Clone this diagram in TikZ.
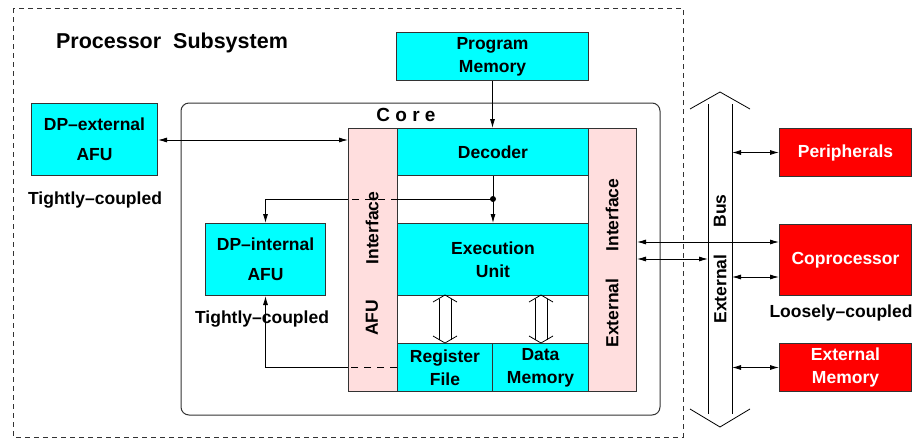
\documentclass[tikz,border=0pt]{standalone}
\usepackage{fontspec}
\setmainfont{Liberation Sans}
\usetikzlibrary{arrows.meta}
\definecolor{cyanbox}{HTML}{00FFFF}
\definecolor{pinkbox}{HTML}{FFDEDE}
\definecolor{redbox}{HTML}{FF0000}
\definecolor{edgecol}{HTML}{333333}
\begin{document}
\begin{tikzpicture}[x=1pt,y=-1pt,
  lbl/.style={font=\bfseries\fontsize{17.5}{23}\selectfont,align=center,inner sep=0pt},
  blk/.style={draw=edgecol,line width=1pt,anchor=north west,inner sep=0pt,lbl},
  cbox/.style={blk,fill=cyanbox},
  pbox/.style={blk,fill=pinkbox},
  rbox/.style={blk,fill=redbox,text=white},
  conn/.style={line width=0.8pt,draw=black},
  arr/.style={conn,-{Latex[length=9pt,width=5pt]}},
  dbl/.style={conn,{Latex[length=9pt,width=5pt]}-{Latex[length=9pt,width=5pt]}},
  dsh/.style={conn,dash pattern=on 7pt off 6pt},
  hollow/.style={line width=0.8pt,draw=black}
]
\useasboundingbox (0,0) rectangle (916,440);
% outer subsystem
\draw[draw=edgecol,line width=0.9pt,dash pattern=on 5pt off 4pt] (13,8) rectangle (683,437);
\node[font=\bfseries\fontsize{21.5}{25}\selectfont,inner sep=0pt] (title) at (172,43) {Processor\ \ Subsystem};

% core
\draw[draw=edgecol,line width=1pt,rounded corners=8pt] (181,103) rectangle (660,415);
\node[font=\bfseries\fontsize{19}{23}\selectfont,inner sep=0pt] (corelbl) at (406,115) {C o r e};

% boxes
\node[cbox,minimum width=192pt,minimum height=48pt] (pm) at (396,32) {Program\\Memory};
\node[cbox,minimum width=126pt,minimum height=72pt] (dpe) at (31,103) {DP–external\\[7pt]AFU};
\node[pbox,minimum width=49pt,minimum height=263pt] (afui) at (348,128) {};
\node[cbox,minimum width=191pt,minimum height=47pt] (dec) at (397,128) {Decoder};
\node[pbox,minimum width=48pt,minimum height=263pt] (exti) at (588,128) {};
\node[cbox,minimum width=191pt,minimum height=72pt] (exu) at (397,223) {Execution\\Unit};
\node[cbox,minimum width=95pt,minimum height=48pt] (rf) at (397,343) {Register\\File};
\node[cbox,minimum width=96pt,minimum height=48pt] (dm) at (492,343) {Data\\Memory};
\node[cbox,minimum width=120pt,minimum height=72pt] (dpi) at (205,223) {DP–internal\\[7pt]AFU};
\node[rbox,minimum width=132pt,minimum height=48pt] (per) at (779,128) {Peripherals};
\node[rbox,minimum width=132pt,minimum height=71pt] (cop) at (779,224) {Coprocessor};
\node[rbox,minimum width=132pt,minimum height=48pt] (em) at (779,343) {External\\Memory};

% rotated labels
\node[lbl,rotate=90] (afuiA) at (372,228) {Interface};
\node[lbl,rotate=90] (afuiB) at (372,318) {AFU};
\node[lbl,rotate=90] (extiA) at (612,215) {Interface};
\node[lbl,rotate=90] (extiB) at (612,313) {External};
\node[lbl,rotate=90] (busA) at (720,211) {Bus};
\node[lbl,rotate=90] (busB) at (720,289) {External};

% coupling labels
\node[lbl] (tc1) at (95,200) {Tightly–coupled};
\node[lbl] (tc2) at (262,319) {Tightly–coupled};
\node[lbl] (lc) at (841,313) {Loosely–coupled};

% bus
\coordinate (bl1) at (708,104); \coordinate (bl2) at (708,414);
\coordinate (br1) at (732,104); \coordinate (br2) at (732,414);
\draw[hollow] (bl1) -- (bl2);
\draw[hollow] (br1) -- (br2);
\draw[hollow] (690,109) -- (720,92) -- (750,109);
\draw[hollow] (690,409) -- (720,427) -- (750,409);

% connectors
\draw[dbl] (dpe.east |- 0,140) -- (afui.west |- 0,140);
\draw[arr] (pm.south) -- (pm.south |- dec.north);
\coordinate (dot) at (dec.south |- 0,199);
\draw[arr] (dec.south) -- (exu.north);
\fill (dot) circle (3pt);
\draw[conn] (dot) -- (afui.east |- dot);
\draw[dsh] (afui.east |- dot) -- (afui.west |- dot);
\draw[arr] (afui.west |- dot) -- (dpi.north |- dot) -- (dpi.north);
\coordinate (rfl) at (rf.west |- 0,367);
\draw[dsh] (rfl) -- (afui.west |- rfl);
\draw[arr] (afui.west |- rfl) -- (dpi.south |- rfl) -- (dpi.south);

% hollow double arrows
\foreach \xx in {445,541}{
  \draw[hollow] (\xx-12,302) -- (\xx,295) -- (\xx+12,302);
  \draw[hollow] (\xx-12,336) -- (\xx,343) -- (\xx+12,336);
  \draw[hollow] (\xx-6,298.5) -- (\xx-6,339.5);
  \draw[hollow] (\xx+6,298.5) -- (\xx+6,339.5);
}

% external connectors
\draw[dbl] (exti.east |- 0,242) -- (cop.west |- 0,242);
\draw[dbl] (exti.east |- 0,259) -- (bl1 |- 0,259);
\draw[dbl] (br1 |- per.west) -- (per.west);
\draw[dbl] (br1 |- 0,277) -- (cop.west |- 0,277);
\draw[dbl] (br1 |- em.west) -- (em.west);
\end{tikzpicture}
\end{document}
